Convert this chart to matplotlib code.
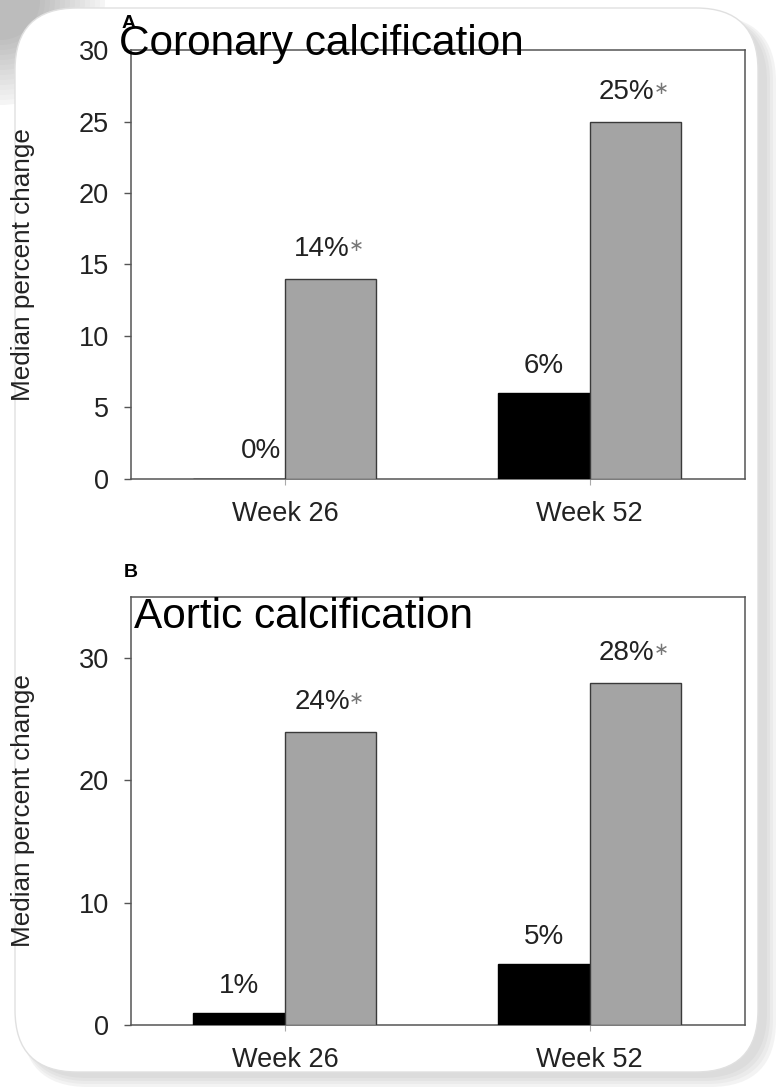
import matplotlib
matplotlib.use("Agg")
import matplotlib.pyplot as plt
from matplotlib.patches import FancyBboxPatch, Circle
from matplotlib.transforms import IdentityTransform
import numpy as np

plt.rcParams['font.family'] = ['Liberation Sans', 'DejaVu Sans']

# data
weeks = ['Week 26', 'Week 52']
coronary_black = [0, 6]
coronary_gray = [14, 25]
aortic_black = [1, 5]
aortic_gray = [24, 28]
coronary_black_lbl = ['0%', '6%']
coronary_gray_lbl = ['14%', '25%']
aortic_black_lbl = ['1%', '5%']
aortic_gray_lbl = ['24%', '28%']

W, H = 777, 1088
fig = plt.figure(figsize=(W / 100, H / 100), dpi=100)
fig.patch.set_facecolor('white')


# card background with a soft shadow (pixel coords from top-left)
def px_box(x0, y0, x1, y1, r, **kw):
    return FancyBboxPatch((x0, H - y1), x1 - x0, y1 - y0,
                          boxstyle="round,pad=0,rounding_size=%d" % r,
                          transform=IdentityTransform(), **kw)


# soft gray shading in the top-left corner, behind the card
for k in range(14):
    r = 105 - k * 5
    g = 0.96 - k * 0.017
    fig.patches.append(Circle((0, H), r, transform=IdentityTransform(),
                              facecolor=(g, g, g), edgecolor='none', zorder=-5))
# shadow towards right / bottom
for off, col in [(0, '#f3f3f3'), (3, '#ebebeb'), (6, '#e3e3e3'), (9, '#dcdcdc')]:
    fig.patches.append(px_box(22, 16, 776 - off, 1087 - off, 66,
                              facecolor=col, edgecolor='none', zorder=-4))
fig.patches.append(px_box(15, 8, 758, 1072, 62, facecolor='white',
                          edgecolor='#e0e0e0', linewidth=1, zorder=-3))

spine_col = '#555555'
txt_col = '#222222'
x = np.arange(len(weeks))
bw = 0.30


def panel(rect, black, gray, blbl, glbl, ymax, yticks, first_left=False):
    ax = fig.add_axes(rect)
    ax.patch.set_alpha(0)
    ax.bar(x - bw / 2, black, bw, color='black', edgecolor='black', linewidth=1, zorder=3)
    ax.bar(x + bw / 2, gray, bw, color='#a4a4a4', edgecolor='#3a3a3a', linewidth=1, zorder=3)
    ax.set_xlim(-0.505, 1.51)
    ax.set_ylim(0, ymax)
    ax.set_yticks(yticks)
    ax.set_xticks(x)
    ax.set_xticklabels(weeks)
    for s in ax.spines.values():
        s.set_color(spine_col)
        s.set_linewidth(1.1)
    ax.tick_params(axis='y', length=5, width=1, color=spine_col, pad=11,
                   labelsize=19.5, labelcolor=txt_col)
    ax.tick_params(axis='x', length=4, width=0.8, color='#aaaaaa', pad=12,
                   labelsize=19.5, labelcolor=txt_col)
    ax.set_ylabel('Median percent change', fontsize=18.8, color=txt_col)
    ax.yaxis.set_label_coords(-0.157, 0.5)
    # labels on black bars
    for i, (v, t) in enumerate(zip(black, blbl)):
        if first_left and i == 0:
            ax.annotate(t, (x[i], v), xytext=(-3, 11), textcoords='offset points',
                        ha='right', va='bottom', fontsize=20, color=txt_col)
        else:
            ax.annotate(t, (x[i] - bw / 2, v), xytext=(0, 10), textcoords='offset points',
                        ha='center', va='bottom', fontsize=20, color=txt_col)
    # labels on gray bars, with a small gray asterisk
    for i, (v, t) in enumerate(zip(gray, glbl)):
        ax.annotate(t, (x[i] + bw / 2, v), xytext=(14, 12), textcoords='offset points',
                    ha='right', va='bottom', fontsize=20, color=txt_col)
        ax.annotate('\u2217', (x[i] + bw / 2, v), xytext=(13, 17), textcoords='offset points',
                    ha='left', va='bottom', fontsize=13, color='#777777',
                    family=['DejaVu Sans'])
    return ax


ax1 = panel([131 / W, 1 - 479 / H, 614 / W, 429 / H], coronary_black, coronary_gray,
            coronary_black_lbl, coronary_gray_lbl, 30, [0, 5, 10, 15, 20, 25, 30],
            first_left=True)
ax2 = panel([131 / W, 1 - 1025 / H, 614 / W, 428 / H], aortic_black, aortic_gray,
            aortic_black_lbl, aortic_gray_lbl, 35, [0, 10, 20, 30])

fig.text(122 / W, 1 - 28 / H, 'A', fontsize=14, fontweight='bold', ha='left', va='baseline')
fig.text(124 / W, 1 - 577 / H, 'B', fontsize=14, fontweight='bold', ha='left', va='baseline')
fig.text(119 / W, 1 - 55 / H, 'Coronary calcification', fontsize=30.5, ha='left', va='baseline')
fig.text(134 / W, 1 - 628 / H, 'Aortic calcification', fontsize=30.5, ha='left', va='baseline')

fig.savefig('out.png', dpi=100, facecolor=fig.get_facecolor())
